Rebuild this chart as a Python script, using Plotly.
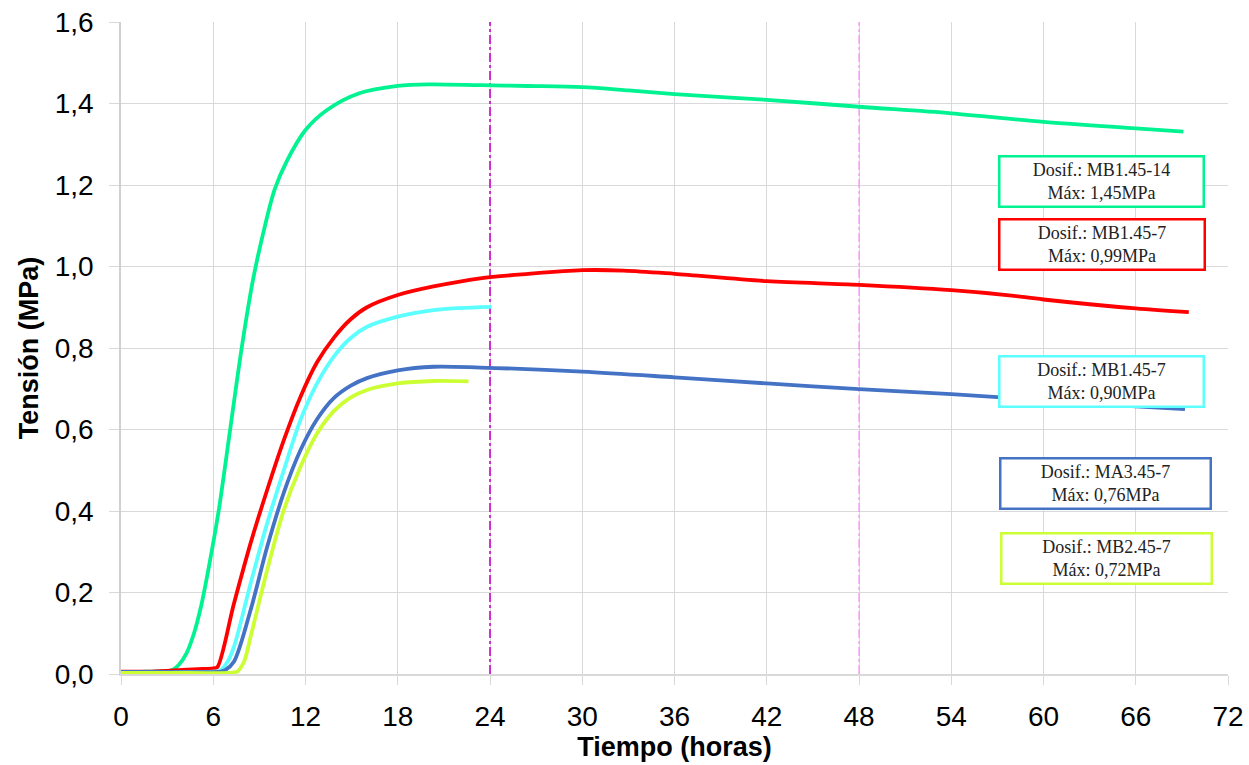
import plotly.graph_objects as go

# ---------------- data ----------------
t_mb145_14 = [0, 1, 2, 3, 3.3, 3.75, 4.25, 4.75, 5.2, 5.7, 6.35, 7.1, 7.85, 8.6, 9.3,
              10.0, 10.8, 12.0, 13.4, 15.5, 18.0, 20.0, 23.4, 26.5, 30, 33, 36, 42,
              48, 54, 60, 66, 69.1]
v_mb145_14 = [0.005, 0.005, 0.006, 0.007, 0.009, 0.022, 0.050, 0.100, 0.165, 0.260,
              0.400, 0.600, 0.800, 0.970, 1.090, 1.190, 1.260, 1.335, 1.384, 1.425,
              1.443, 1.447, 1.445, 1.443, 1.440, 1.432, 1.423, 1.409, 1.392, 1.376,
              1.355, 1.339, 1.331]

t_mb145_7 = [0, 2, 4, 5, 6.0, 6.25, 7.34, 8.42, 9.5, 10.59, 11.67, 12.75, 13.84, 14.92,
             16.0, 18, 20.33, 23.36, 26.5, 30, 32.7, 36, 42, 48, 54, 57.6, 60, 66, 69.45]
v_mb145_7 = [0.006, 0.006, 0.010, 0.012, 0.014, 0.016, 0.172, 0.320, 0.451, 0.574,
             0.680, 0.765, 0.825, 0.870, 0.900, 0.930, 0.951, 0.971, 0.982, 0.991,
             0.990, 0.982, 0.964, 0.955, 0.942, 0.930, 0.919, 0.897, 0.888]

t_mb145_7b = [0, 3, 6.0, 6.45, 6.9, 7.34, 8.42, 9.5, 10.59, 11.67, 12.75, 13.84, 14.92,
              16.0, 18, 20.33, 22, 24.1]
v_mb145_7b = [0.005, 0.005, 0.006, 0.008, 0.028, 0.066, 0.221, 0.369, 0.500, 0.623,
              0.713, 0.779, 0.824, 0.852, 0.877, 0.893, 0.898, 0.901]

t_ma345_7 = [0, 3, 6.5, 6.8, 7.34, 8.42, 9.5, 10.59, 11.67, 12.75, 13.84, 14.92, 16,
             18, 20.33, 23.36, 30, 36, 42, 48, 54, 60, 66, 69.2]
v_ma345_7 = [0.005, 0.005, 0.006, 0.010, 0.030, 0.156, 0.311, 0.445, 0.549, 0.625,
             0.677, 0.707, 0.726, 0.745, 0.754, 0.752, 0.742, 0.728, 0.713, 0.699,
             0.687, 0.672, 0.657, 0.650]

t_mb245_7 = [0, 3, 7.0, 7.56, 8.0, 8.42, 9.5, 10.59, 11.67, 12.75, 13.84, 14.92, 16,
             18, 20.33, 22.6]
v_mb245_7 = [0.003, 0.003, 0.003, 0.006, 0.030, 0.090, 0.254, 0.402, 0.508, 0.590,
             0.645, 0.678, 0.697, 0.713, 0.719, 0.718]

series_names = ["MB1.45-14", "MB1.45-7", "MB1.45-7", "MA3.45-7", "MB2.45-7"]
series_max = ["1,45", "0,99", "0,90", "0,76", "0,72"]
series_colors = ["#00F291", "#FF0000", "#5CFFFF", "#4472C4", "#CCFF33"]
series_t = [t_mb145_14, t_mb145_7, t_mb145_7b, t_ma345_7, t_mb245_7]
series_v = [v_mb145_14, v_mb145_7, v_mb145_7b, v_ma345_7, v_mb245_7]

ref_hours = [24, 48]
ref_colors = ["#CC00CC", "#EE88EE"]
ref_widths = [1.6, 1.1]

x_ticks = list(range(0, 73, 6))
y_ticks = [0.0, 0.2, 0.4, 0.6, 0.8, 1.0, 1.2, 1.4, 1.6]

# label box positions (paper coords, centre) and sizes
box_pos = [(0.8853, 0.7554), (0.8866, 0.6587), (0.8853, 0.4479), (0.8889, 0.2922), (0.8898, 0.1771)]
box_w = [202, 203, 202, 208, 208]

fig = go.Figure()

for hx, hc, hw in zip(ref_hours, ref_colors, ref_widths):
    fig.add_trace(go.Scatter(x=[hx, hx], y=[0, 1.6], mode="lines",
                             line=dict(color=hc, width=hw, dash="dashdot"),
                             showlegend=False, hoverinfo="skip"))

for t, v, c, n in zip(series_t, series_v, series_colors, series_names):
    fig.add_trace(go.Scatter(x=t, y=v, mode="lines", name=n,
                             line=dict(color=c, width=3.8, shape="spline", smoothing=0.9),
                             showlegend=False))

for (px, py), w, n, m, c in zip(box_pos, box_w, series_names, series_max, series_colors):
    fig.add_annotation(xref="paper", yref="paper", x=px, y=py,
                       xanchor="center", yanchor="middle", showarrow=False,
                       text=f"Dosif.: {n}<br>Máx: {m}MPa",
                       font=dict(family="Liberation Serif", size=18, color="#222222"),
                       bgcolor="white", bordercolor=c, borderwidth=2.5, borderpad=0,
                       width=w, height=48, align="center")

fig.update_layout(
    width=1249, height=765,
    margin=dict(l=121, r=21, t=22, b=91, autoexpand=False),
    plot_bgcolor="white", paper_bgcolor="white",
    separators=",.",
    font=dict(family="Liberation Sans", color="#000000"),
)
fig.update_xaxes(range=[0, 72], tickvals=x_ticks, ticks="outside", ticklen=9,
                 tickcolor="#D9D9D9", gridcolor="#D9D9D9", gridwidth=1,
                 showline=True, linecolor="#D9D9D9", linewidth=1.5, zeroline=False,
                 automargin=False,
                 tickfont=dict(size=28, family="Liberation Sans"),
                 ticklabelstandoff=8,
                 title=dict(text="<b>Tiempo (horas)</b>",
                            font=dict(size=27, family="Liberation Sans"), standoff=4))
fig.update_yaxes(range=[0, 1.6], tickvals=y_ticks, tickformat=".1f", ticks="outside",
                 ticklen=10, tickcolor="#D9D9D9", gridcolor="#D9D9D9", gridwidth=1,
                 showline=True, linecolor="#D0D0D0", linewidth=1.5, zeroline=False,
                 automargin=False,
                 tickfont=dict(size=28, family="Liberation Sans"),
                 ticklabelstandoff=10,
                 title=dict(text="<b>Tensión (MPa)</b>",
                            font=dict(size=27, family="Liberation Sans"), standoff=8))

fig.write_html("out.html", config={"displayModeBar": False},
               post_script="document.body.style.margin='0';document.body.style.overflow='hidden';")
